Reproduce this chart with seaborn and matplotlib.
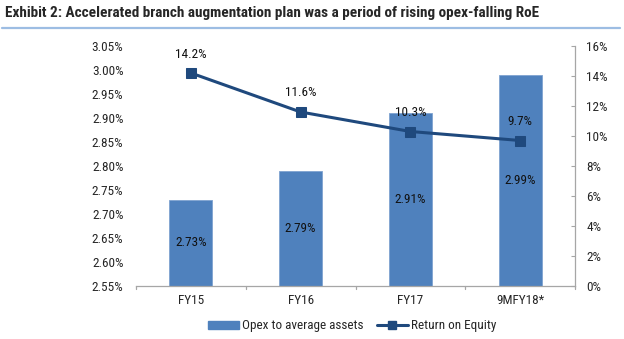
import matplotlib
matplotlib.use("Agg")
import matplotlib.pyplot as plt
import seaborn as sns
import pandas as pd
from matplotlib.lines import Line2D
from matplotlib.patches import Patch

categories = ["FY15", "FY16", "FY17", "9MFY18*"]
opex_to_assets = [2.73, 2.79, 2.91, 2.99]
roe = [14.2, 11.6, 10.3, 9.7]
left_ticks = [2.55, 2.60, 2.65, 2.70, 2.75, 2.80, 2.85, 2.90, 2.95, 3.00, 3.05]
right_ticks = [0, 2, 4, 6, 8, 10, 12, 14, 16]
title = "Exhibit 2: Accelerated branch augmentation plan was a period of rising opex-falling RoE"

df = pd.DataFrame({"cat": categories, "opex": opex_to_assets, "roe": roe})

sns.set_style("white")
plt.rcParams["font.family"] = ["Roboto Condensed", "DejaVu Sans"]

BAR = "#4F81BD"
LINE = "#1F497D"
GRAY = "#A6A6A6"
FS = 9.5

fig = plt.figure(figsize=(6.24, 3.39), dpi=100)
ax = fig.add_axes([136/624, 1-286/339, (575-136)/624, (286-46)/339])

sns.barplot(data=df, x="cat", y="opex", color=BAR, width=0.39, ax=ax,
            saturation=1, edgecolor="#7FA3D0", linewidth=0.6)
ax.set_ylim(2.55, 3.05)
ax.set_xlim(-0.5, 3.5)
ax.set_yticks(left_ticks)
ax.set_yticklabels([f"{v:.2f}%" for v in left_ticks], fontsize=FS)
ax.set_xlabel("")
ax.set_ylabel("")
ax.set_xticks(range(len(categories)))
ax.set_xticklabels(categories, fontsize=FS)
ax.tick_params(axis="x", length=0, pad=6)
ax.tick_params(axis="y", length=0, pad=9)
for s in ["top", "left", "right"]:
    ax.spines[s].set_visible(False)
ax.spines["bottom"].set_color(GRAY)
ax.spines["bottom"].set_linewidth(0.9)
for b in [-0.5, 0.5, 1.5, 2.5, 3.5]:
    ax.plot([b, b], [0, -0.012], transform=ax.get_xaxis_transform(),
            color=GRAY, lw=0.9, clip_on=False)

for i, v in enumerate(opex_to_assets):
    ax.text(i, (v + 2.55) / 2, f"{v:.2f}%", ha="center", va="center",
            fontsize=FS, color="#111111")

ax2 = ax.twinx()
sns.lineplot(data=df, x="cat", y="roe", ax=ax2, color=LINE, lw=2.2,
             marker="s", markersize=7, markeredgecolor=LINE, sort=False)
ax2.set_ylim(0, 16)
ax2.set_xlim(-0.5, 3.5)
ax2.set_yticks(right_ticks)
ax2.set_yticklabels([f"{v}%" for v in right_ticks], fontsize=FS)
ax2.set_ylabel("")
ax2.set_xlabel("")
ax2.tick_params(axis="y", direction="in", length=3, color=GRAY, pad=8)
for s in ["top", "left", "bottom"]:
    ax2.spines[s].set_visible(False)
ax2.spines["right"].set_color(GRAY)
ax2.spines["right"].set_linewidth(0.9)
for i, v in enumerate(roe):
    ax2.annotate(f"{v:.1f}%", (i, v), xytext=(0, 9), textcoords="offset points",
                 ha="center", va="bottom", fontsize=FS, color="#111111")

handles = [Patch(facecolor=BAR, edgecolor=BAR),
           Line2D([0], [0], color=LINE, lw=2.2, marker="s", markersize=6)]
fig.legend(handles, ["Opex to average assets", "Return on Equity"],
           loc="center", bbox_to_anchor=(352/624, 1-326/339), ncol=2, frameon=False,
           fontsize=FS, handlelength=2.4, handleheight=0.5, handletextpad=0.2,
           columnspacing=1.0)

t = fig.text(5/624, 1-13/339, title, fontsize=11.5, fontweight="bold", ha="left", va="center")
fig.canvas.draw()
w = t.get_window_extent().width
t.set_fontsize(11.5 * 535 / w)
fig.add_artist(Line2D([2/624, 620/624], [1-28/339, 1-28/339], color="#9DBDE3", lw=1.6))

fig.savefig("out.png", dpi=100)
